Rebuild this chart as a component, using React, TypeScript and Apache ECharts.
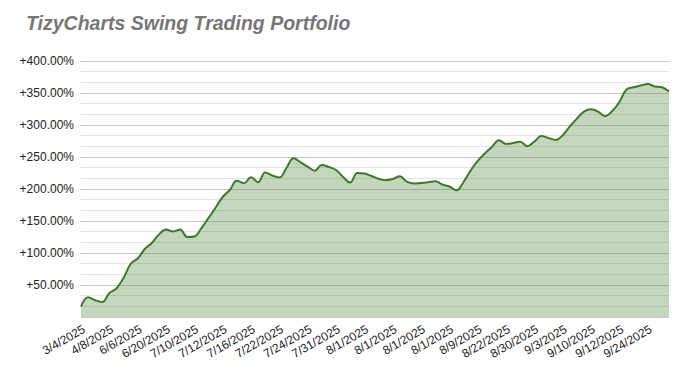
import React, { useEffect, useRef } from "react";
import * as echarts from "echarts";

const titleText = "TizyCharts Swing Trading Portfolio";

const dates: string[] = [
  "3/4/2025", "3/12/2025", "3/20/2025", "3/28/2025",
  "4/8/2025", "4/22/2025", "5/6/2025", "5/20/2025",
  "6/6/2025", "6/10/2025", "6/13/2025", "6/17/2025",
  "6/20/2025", "6/25/2025", "7/1/2025", "7/7/2025",
  "7/10/2025", "7/10/2025", "7/11/2025", "7/11/2025",
  "7/12/2025", "7/14/2025", "7/15/2025", "7/15/2025",
  "7/16/2025", "7/17/2025", "7/18/2025", "7/21/2025",
  "7/22/2025", "7/22/2025", "7/23/2025", "7/23/2025",
  "7/24/2025", "7/25/2025", "7/28/2025", "7/29/2025",
  "7/31/2025", "7/31/2025", "8/1/2025", "8/1/2025",
  "8/1/2025", "8/1/2025", "8/1/2025", "8/1/2025",
  "8/1/2025", "8/1/2025", "8/1/2025", "8/1/2025",
  "8/1/2025", "8/1/2025", "8/1/2025", "8/1/2025",
  "8/1/2025", "8/1/2025", "8/4/2025", "8/6/2025",
  "8/9/2025", "8/12/2025", "8/15/2025", "8/19/2025",
  "8/22/2025", "8/25/2025", "8/27/2025", "8/28/2025",
  "8/30/2025", "8/31/2025", "9/1/2025", "9/2/2025",
  "9/3/2025", "9/4/2025", "9/5/2025", "9/8/2025",
  "9/10/2025", "9/10/2025", "9/11/2025", "9/11/2025",
  "9/12/2025", "9/15/2025", "9/18/2025", "9/22/2025",
  "9/24/2025", "9/25/2025", "9/26/2025", "9/29/2025",
];

const returnsPct: number[] = [
  16.1, 30.8, 26.2, 23.4, 37.5, 44.5, 60.9, 82.8,
  91.4, 106.3, 115.6, 128.9, 136.7, 133.6, 136.7, 125.0,
  125.8, 139.0, 154.7, 171.0, 187.5, 198.4, 213.0, 209.0,
  218.3, 210.5, 225.8, 221.0, 218.0, 232.8, 248.0, 241.7,
  235.0, 228.6, 237.5, 234.4, 229.7, 218.8, 210.0, 225.0,
  224.2, 220.3, 216.0, 213.8, 215.6, 220.0, 211.4, 208.4,
  209.4, 210.6, 212.0, 207.0, 203.9, 198.0, 211.0, 228.9,
  243.8, 255.5, 265.6, 276.3, 270.3, 271.9, 274.0, 266.9,
  274.2, 282.8, 279.7, 276.6, 284.0, 297.7, 310.0, 321.0,
  324.5, 320.8, 314.0, 321.9, 336.0, 355.5, 358.9, 361.7,
  364.0, 360.2, 358.9, 352.3,
];

const yMin = 0;
const yMax = 400;
const yInterval = 50;

export default function App() {
  const ref = useRef<HTMLDivElement>(null);
  useEffect(() => {
    if (!ref.current) return;
    const chart = echarts.init(ref.current, undefined, { renderer: "svg" });
    chart.setOption({
      animation: false,
      backgroundColor: "#ffffff",
      title: {
        text: titleText,
        left: 21,
        top: 8,
        textStyle: {
          fontFamily: "Liberation Sans, Arial, sans-serif",
          fontSize: 19.5,
          fontWeight: "bold",
          fontStyle: "italic",
          color: "#767676",
        },
      },
      grid: { left: 81, right: 20, top: 61, bottom: 59, containLabel: false },
      xAxis: {
        type: "category",
        data: dates,
        boundaryGap: false,
        axisLine: { show: false },
        axisTick: { show: false },
        splitLine: { show: false },
        axisLabel: {
          interval: 3,
          rotate: 30,
          margin: 6,
          verticalAlign: "top",
          fontSize: 12,
          color: "#222",
          fontFamily: "Liberation Sans, Arial, sans-serif",
        },
      },
      yAxis: {
        type: "value",
        min: yMin,
        max: yMax,
        interval: yInterval,
        axisLine: { show: false },
        axisTick: { show: false },
        axisLabel: {
          showMinLabel: false,
          margin: 7,
          fontSize: 12,
          color: "#222",
          fontFamily: "Liberation Sans, Arial, sans-serif",
          formatter: (v: number) => "+" + v.toFixed(2) + "%",
        },
        splitLine: { show: true, lineStyle: { color: "#c6c6c6", width: 1 } },
        minorTick: { show: false, splitNumber: 3 },
        minorSplitLine: { show: true, lineStyle: { color: "#e4e4e4", width: 1 } },
      },
      series: [
        {
          type: "line",
          data: returnsPct,
          smooth: 0.4,
          symbol: "none",
          lineStyle: { color: "#3c7a27", width: 2 },
          areaStyle: { color: "#3c7a27", opacity: 0.3 },
        },
      ],
    });
    return () => chart.dispose();
  }, []);
  return <div ref={ref} style={{ width: 689, height: 376, position: "absolute", left: 0, top: 0 }} />;
}
